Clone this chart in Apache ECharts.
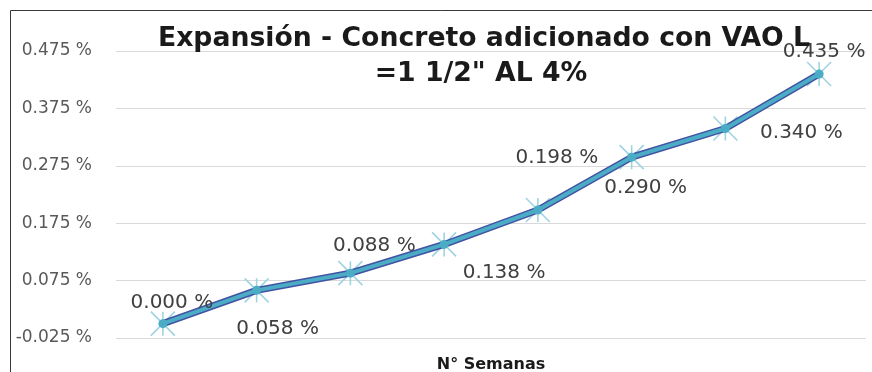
<!DOCTYPE html>
<html>
<head>
<meta charset="utf-8">
<script src="https://cdn.jsdelivr.net/npm/echarts@6/dist/echarts.min.js"></script>
<style>
html,body{margin:0;padding:0;background:#fff;}
#chart{width:872px;height:372px;}
</style>
</head>
<body>
<div id="chart"></div>
<script>
// ---- Data ----
var weeks = ['1', '2', '3', '4', '5', '6', '7', '8'];
var expansion = [0.000, 0.058, 0.088, 0.138, 0.198, 0.290, 0.340, 0.435];
var titleLines = ['Expansión - Concreto adicionado con VAO L', '=1 1/2" AL 4%'];
var xAxisName = 'N° Semanas';

// label placement (style only)
var labelOffsets = [[9,-21],[21,38],[24,-27],[60,28],[19,-52],[14,31],[76,4],[5,-22]];

function pct(v){ return v.toFixed(3) + ' %'; }

var chart = echarts.init(document.getElementById('chart'), null, {renderer:'canvas'});

var labeled = expansion.map(function(v, i){
  return {
    value: v,
    label: { offset: labelOffsets[i] }
  };
});

var option = {
  backgroundColor: '#ffffff',
  animation: false,
  grid: { left: 116, right: 6, top: 51, bottom: 34, containLabel: false, outerBoundsMode: 'none' },
  xAxis: {
    type: 'category',
    data: weeks,
    boundaryGap: true,
    axisLine: { show: false },
    axisTick: { show: false },
    axisLabel: { show: false },
    splitLine: { show: false },
    name: xAxisName,
    nameLocation: 'middle',
    nameGap: 19,
    nameTextStyle: { fontFamily: 'DejaVu Sans', fontWeight: 'bold', fontSize: 16, color: '#1a1a1a' }
  },
  yAxis: {
    type: 'value',
    min: -0.025,
    max: 0.475,
    interval: 0.1,
    axisLine: { show: false },
    axisTick: { show: false },
    axisLabel: {
      formatter: function(v){ return pct(v); },
      margin: 24,
      fontFamily: 'DejaVu Sans',
      fontSize: 17,
      color: '#595959'
    },
    splitLine: { lineStyle: { color: '#d9d9d9', width: 1 } }
  },
  graphic: [
    { type: 'rect', shape: { x: 10.5, y: 10.5, width: 900, height: 420 }, style: { fill: 'none', stroke: '#3a3a3a', lineWidth: 1 }, silent: true, z: -1 },
    { type: 'text', x: 484, y: 39, style: { text: titleLines[0], fill: '#1a1a1a', font: 'bold 26.7px "DejaVu Sans"', textAlign: 'center', textVerticalAlign: 'middle' }, z: 10 },
    { type: 'text', x: 481, y: 74, style: { text: titleLines[1], fill: '#1a1a1a', font: 'bold 26.7px "DejaVu Sans"', textAlign: 'center', textVerticalAlign: 'middle' }, z: 10 }
  ],
  series: [
    {
      type: 'line',
      data: expansion,
      symbol: 'path://M0,0L24,24M24,0L0,24M12,0L12,24',
      symbolSize: 24,
      showAllSymbol: true,
      itemStyle: { color: 'rgba(0,0,0,0)', borderColor: '#9fd3e2', borderWidth: 1.6 },
      lineStyle: { opacity: 0 },
      z: 2
    },
    {
      type: 'line',
      data: expansion,
      symbol: 'none',
      lineStyle: { color: '#4353a3', width: 7 },
      z: 3
    },
    {
      type: 'line',
      data: labeled,
      symbol: 'circle',
      symbolSize: 9,
      showAllSymbol: true,
      itemStyle: { color: '#4bacc6' },
      lineStyle: { color: '#4bacc6', width: 4 },
      label: {
        show: true,
        position: 'inside',
        formatter: function(p){ return pct(p.value); },
        fontFamily: 'DejaVu Sans',
        fontSize: 20,
        color: '#404040',
        align: 'center',
        verticalAlign: 'middle'
      },
      z: 4
    }
  ]
};
chart.setOption(option);
</script>
</body>
</html>
